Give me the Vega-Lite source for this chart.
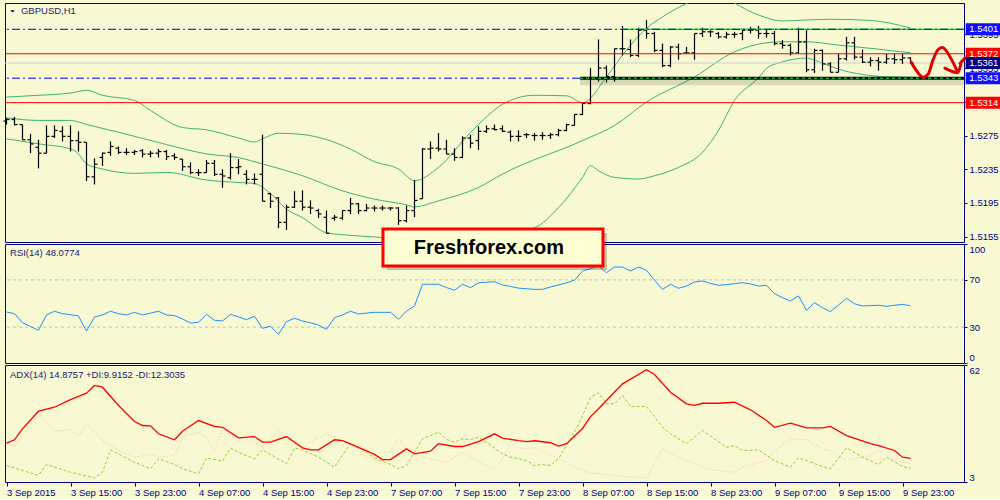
{
  "$schema": "https://vega.github.io/schema/vega-lite/v6.json",
  "background": "#F8F8D2",
  "padding": {"left": 2, "top": 2, "right": 2, "bottom": 2},
  "spacing": 2,
  "bounds": "flush",
  "config": {
    "view": {"stroke": "#000080", "strokeWidth": 1},
    "font": "Liberation Sans",
    "axis": {"labelFont": "Liberation Sans", "labelFontSize": 9.5, "labelColor": "#000080", "tickColor": "#000080", "domain": false, "grid": false}
  },
  "datasets": {
    "bars": [
      {"i":0,"o":1.5292,"h":1.5296,"l":1.5288,"c":1.5294},
      {"i":1,"o":1.5294,"h":1.5297,"l":1.5287,"c":1.5288},
      {"i":2,"o":1.5288,"h":1.5288,"l":1.5270,"c":1.5270},
      {"i":3,"o":1.5270,"h":1.5277,"l":1.5254,"c":1.5265},
      {"i":4,"o":1.5261,"h":1.5270,"l":1.5236,"c":1.5254},
      {"i":5,"o":1.5254,"h":1.5287,"l":1.5254,"c":1.5274},
      {"i":6,"o":1.5274,"h":1.5287,"l":1.5272,"c":1.5281},
      {"i":7,"o":1.5280,"h":1.5286,"l":1.5268,"c":1.5274},
      {"i":8,"o":1.5274,"h":1.5287,"l":1.5256,"c":1.5269},
      {"i":9,"o":1.5269,"h":1.5280,"l":1.5256,"c":1.5267},
      {"i":10,"o":1.5267,"h":1.5267,"l":1.5221,"c":1.5226},
      {"i":11,"o":1.5226,"h":1.5248,"l":1.5217,"c":1.5241},
      {"i":12,"o":1.5249,"h":1.5255,"l":1.5239,"c":1.5254},
      {"i":13,"o":1.5255,"h":1.5268,"l":1.5251,"c":1.5262},
      {"i":14,"o":1.5260,"h":1.5262,"l":1.5253,"c":1.5255},
      {"i":15,"o":1.5255,"h":1.5260,"l":1.5252,"c":1.5255},
      {"i":16,"o":1.5255,"h":1.5258,"l":1.5252,"c":1.5256},
      {"i":17,"o":1.5257,"h":1.5259,"l":1.5249,"c":1.5253},
      {"i":18,"o":1.5253,"h":1.5257,"l":1.5249,"c":1.5254},
      {"i":19,"o":1.5254,"h":1.5259,"l":1.5249,"c":1.5256},
      {"i":20,"o":1.5256,"h":1.5258,"l":1.5246,"c":1.5250},
      {"i":21,"o":1.5251,"h":1.5254,"l":1.5246,"c":1.5249},
      {"i":22,"o":1.5247,"h":1.5247,"l":1.5233,"c":1.5238},
      {"i":23,"o":1.5238,"h":1.5243,"l":1.5229,"c":1.5231},
      {"i":24,"o":1.5231,"h":1.5235,"l":1.5227,"c":1.5231},
      {"i":25,"o":1.5231,"h":1.5246,"l":1.5231,"c":1.5242},
      {"i":26,"o":1.5242,"h":1.5246,"l":1.5227,"c":1.5229},
      {"i":27,"o":1.5229,"h":1.5235,"l":1.5213,"c":1.5227},
      {"i":28,"o":1.5225,"h":1.5254,"l":1.5223,"c":1.5237},
      {"i":29,"o":1.5237,"h":1.5247,"l":1.5229,"c":1.5238},
      {"i":30,"o":1.5229,"h":1.5234,"l":1.5217,"c":1.5223},
      {"i":31,"o":1.5223,"h":1.5230,"l":1.5217,"c":1.5223},
      {"i":32,"o":1.5229,"h":1.5276,"l":1.5197,"c":1.5197},
      {"i":33,"o":1.5206,"h":1.5207,"l":1.5189,"c":1.5197},
      {"i":34,"o":1.5201,"h":1.5202,"l":1.5165,"c":1.5172},
      {"i":35,"o":1.5172,"h":1.5193,"l":1.5163,"c":1.5190},
      {"i":36,"o":1.5190,"h":1.5209,"l":1.5189,"c":1.5197},
      {"i":37,"o":1.5197,"h":1.5210,"l":1.5186,"c":1.5190},
      {"i":38,"o":1.5190,"h":1.5198,"l":1.5182,"c":1.5189},
      {"i":39,"o":1.5186,"h":1.5188,"l":1.5177,"c":1.5182},
      {"i":40,"o":1.5178,"h":1.5186,"l":1.5159,"c":1.5159},
      {"i":41,"o":1.5177,"h":1.5181,"l":1.5174,"c":1.5178},
      {"i":42,"o":1.5177,"h":1.5186,"l":1.5175,"c":1.5186},
      {"i":43,"o":1.5186,"h":1.5201,"l":1.5182,"c":1.5194},
      {"i":44,"o":1.5194,"h":1.5195,"l":1.5182,"c":1.5186},
      {"i":45,"o":1.5186,"h":1.5194,"l":1.5185,"c":1.5189},
      {"i":46,"o":1.5189,"h":1.5192,"l":1.5185,"c":1.5189},
      {"i":47,"o":1.5189,"h":1.5192,"l":1.5186,"c":1.5189},
      {"i":48,"o":1.5189,"h":1.5190,"l":1.5186,"c":1.5189},
      {"i":49,"o":1.5189,"h":1.5190,"l":1.5169,"c":1.5174},
      {"i":50,"o":1.5174,"h":1.5192,"l":1.5172,"c":1.5186},
      {"i":51,"o":1.5186,"h":1.5222,"l":1.5178,"c":1.5198},
      {"i":52,"o":1.5200,"h":1.5260,"l":1.5200,"c":1.5259},
      {"i":53,"o":1.5259,"h":1.5268,"l":1.5247,"c":1.5260},
      {"i":54,"o":1.5260,"h":1.5278,"l":1.5256,"c":1.5259},
      {"i":55,"o":1.5259,"h":1.5270,"l":1.5253,"c":1.5253},
      {"i":56,"o":1.5253,"h":1.5260,"l":1.5245,"c":1.5249},
      {"i":57,"o":1.5249,"h":1.5274,"l":1.5248,"c":1.5272},
      {"i":58,"o":1.5272,"h":1.5276,"l":1.5260,"c":1.5266},
      {"i":59,"o":1.5269,"h":1.5286,"l":1.5258,"c":1.5280},
      {"i":60,"o":1.5280,"h":1.5287,"l":1.5278,"c":1.5283},
      {"i":61,"o":1.5283,"h":1.5288,"l":1.5281,"c":1.5282},
      {"i":62,"o":1.5283,"h":1.5287,"l":1.5279,"c":1.5280},
      {"i":63,"o":1.5279,"h":1.5281,"l":1.5268,"c":1.5274},
      {"i":64,"o":1.5274,"h":1.5281,"l":1.5268,"c":1.5274},
      {"i":65,"o":1.5276,"h":1.5278,"l":1.5272,"c":1.5276},
      {"i":66,"o":1.5275,"h":1.5278,"l":1.5269,"c":1.5275},
      {"i":67,"o":1.5275,"h":1.5279,"l":1.5270,"c":1.5275},
      {"i":68,"o":1.5275,"h":1.5278,"l":1.5271,"c":1.5276},
      {"i":69,"o":1.5276,"h":1.5283,"l":1.5274,"c":1.5281},
      {"i":70,"o":1.5281,"h":1.5289,"l":1.5280,"c":1.5288},
      {"i":71,"o":1.5287,"h":1.5300,"l":1.5287,"c":1.5300},
      {"i":72,"o":1.5300,"h":1.5314,"l":1.5299,"c":1.5313},
      {"i":73,"o":1.5313,"h":1.5355,"l":1.5312,"c":1.5343},
      {"i":74,"o":1.5343,"h":1.5389,"l":1.5339,"c":1.5355},
      {"i":75,"o":1.5355,"h":1.5358,"l":1.5338,"c":1.5345},
      {"i":76,"o":1.5345,"h":1.5378,"l":1.5339,"c":1.5378},
      {"i":77,"o":1.5378,"h":1.5405,"l":1.5370,"c":1.5378},
      {"i":78,"o":1.5377,"h":1.5389,"l":1.5368,"c":1.5370},
      {"i":79,"o":1.5370,"h":1.5403,"l":1.5368,"c":1.5400},
      {"i":80,"o":1.5400,"h":1.5412,"l":1.5390,"c":1.5396},
      {"i":81,"o":1.5396,"h":1.5398,"l":1.5374,"c":1.5376},
      {"i":82,"o":1.5376,"h":1.5384,"l":1.5356,"c":1.5358},
      {"i":83,"o":1.5358,"h":1.5381,"l":1.5356,"c":1.5380},
      {"i":84,"o":1.5380,"h":1.5384,"l":1.5365,"c":1.5372},
      {"i":85,"o":1.5373,"h":1.5380,"l":1.5372,"c":1.5373},
      {"i":86,"o":1.5373,"h":1.5396,"l":1.5365,"c":1.5396},
      {"i":87,"o":1.5396,"h":1.5403,"l":1.5392,"c":1.5398},
      {"i":88,"o":1.5398,"h":1.5400,"l":1.5392,"c":1.5398},
      {"i":89,"o":1.5396,"h":1.5398,"l":1.5390,"c":1.5392},
      {"i":90,"o":1.5392,"h":1.5398,"l":1.5390,"c":1.5395},
      {"i":91,"o":1.5395,"h":1.5398,"l":1.5391,"c":1.5395},
      {"i":92,"o":1.5396,"h":1.5402,"l":1.5388,"c":1.5400},
      {"i":93,"o":1.5400,"h":1.5404,"l":1.5396,"c":1.5400},
      {"i":94,"o":1.5400,"h":1.5405,"l":1.5390,"c":1.5396},
      {"i":95,"o":1.5396,"h":1.5401,"l":1.5391,"c":1.5396},
      {"i":96,"o":1.5396,"h":1.5399,"l":1.5382,"c":1.5384},
      {"i":97,"o":1.5384,"h":1.5388,"l":1.5378,"c":1.5382},
      {"i":98,"o":1.5382,"h":1.5384,"l":1.5370,"c":1.5373},
      {"i":99,"o":1.5373,"h":1.5403,"l":1.5372,"c":1.5386},
      {"i":100,"o":1.5386,"h":1.5401,"l":1.5350,"c":1.5353},
      {"i":101,"o":1.5353,"h":1.5378,"l":1.5349,"c":1.5376},
      {"i":102,"o":1.5376,"h":1.5377,"l":1.5352,"c":1.5360},
      {"i":103,"o":1.5360,"h":1.5362,"l":1.5350,"c":1.5350},
      {"i":104,"o":1.5350,"h":1.5372,"l":1.5350,"c":1.5366},
      {"i":105,"o":1.5366,"h":1.5392,"l":1.5364,"c":1.5385},
      {"i":106,"o":1.5385,"h":1.5392,"l":1.5365,"c":1.5368},
      {"i":107,"o":1.5368,"h":1.5377,"l":1.5361,"c":1.5362},
      {"i":108,"o":1.5362,"h":1.5368,"l":1.5357,"c":1.5364},
      {"i":109,"o":1.5364,"h":1.5368,"l":1.5352,"c":1.5362},
      {"i":110,"o":1.5362,"h":1.5372,"l":1.5360,"c":1.5366},
      {"i":111,"o":1.5366,"h":1.5372,"l":1.5360,"c":1.5365},
      {"i":112,"o":1.5365,"h":1.5372,"l":1.5360,"c":1.5367},
      {"i":113,"o":1.5367,"h":1.5368,"l":1.5360,"c":1.5361}
    ],
    "bb": [
      {"b":"u","i":0,"p":1.53206},{"b":"u","i":4,"p":1.53227},{"b":"u","i":8,"p":1.53254},{"b":"u","i":10,"p":1.53286},{"b":"u","i":12,"p":1.53227},{"b":"u","i":16,"p":1.53167},{"b":"u","i":18,"p":1.53048},{"b":"u","i":22,"p":1.52845},{"b":"u","i":25,"p":1.52818},{"b":"u","i":29,"p":1.5272},{"b":"u","i":31,"p":1.52673},{"b":"u","i":32,"p":1.52711},{"b":"u","i":34,"p":1.52777},{"b":"u","i":37,"p":1.52762},{"b":"u","i":40,"p":1.52702},{"b":"u","i":43,"p":1.52589},{"b":"u","i":46,"p":1.5244},{"b":"u","i":49,"p":1.52353},{"b":"u","i":51,"p":1.52214},{"b":"u","i":54,"p":1.52372},{"b":"u","i":58,"p":1.52786},{"b":"u","i":59,"p":1.52881},{"b":"u","i":62,"p":1.5312},{"b":"u","i":66,"p":1.53227},{"b":"u","i":70,"p":1.53221},{"b":"u","i":72,"p":1.5314},{"b":"u","i":75,"p":1.53445},{"b":"u","i":77,"p":1.53704},{"b":"u","i":80,"p":1.54022},{"b":"u","i":82,"p":1.54157},{"b":"u","i":86,"p":1.54359},{"b":"u","i":89,"p":1.54455},{"b":"u","i":91,"p":1.54323},{"b":"u","i":94,"p":1.5418},{"b":"u","i":97,"p":1.54109},{"b":"u","i":100,"p":1.54121},{"b":"u","i":103,"p":1.54129},{"b":"u","i":108,"p":1.54115},{"b":"u","i":113,"p":1.54025},
      {"b":"m","i":0,"p":1.52961},{"b":"m","i":4,"p":1.52929},{"b":"m","i":8,"p":1.52929},{"b":"m","i":10,"p":1.52881},{"b":"m","i":14,"p":1.52789},{"b":"m","i":20,"p":1.52643},{"b":"m","i":25,"p":1.52532},{"b":"m","i":29,"p":1.52488},{"b":"m","i":32,"p":1.52413},{"b":"m","i":37,"p":1.52273},{"b":"m","i":42,"p":1.52094},{"b":"m","i":46,"p":1.51995},{"b":"m","i":50,"p":1.51928},{"b":"m","i":51,"p":1.51904},{"b":"m","i":54,"p":1.51975},{"b":"m","i":59,"p":1.52134},{"b":"m","i":62,"p":1.52293},{"b":"m","i":72,"p":1.5269},{"b":"m","i":76,"p":1.52869},{"b":"m","i":80,"p":1.53147},{"b":"m","i":86,"p":1.53445},{"b":"m","i":91,"p":1.53743},{"b":"m","i":95,"p":1.5385},{"b":"m","i":97,"p":1.53862},{"b":"m","i":100,"p":1.53862},{"b":"m","i":104,"p":1.53823},{"b":"m","i":108,"p":1.53784},{"b":"m","i":113,"p":1.53731},
      {"b":"l","i":0,"p":1.52711},{"b":"l","i":4,"p":1.52651},{"b":"l","i":8,"p":1.52592},{"b":"l","i":9,"p":1.52532},{"b":"l","i":10,"p":1.52413},{"b":"l","i":12,"p":1.52353},{"b":"l","i":16,"p":1.52301},{"b":"l","i":20,"p":1.52313},{"b":"l","i":25,"p":1.52222},{"b":"l","i":29,"p":1.52193},{"b":"l","i":31,"p":1.52181},{"b":"l","i":33,"p":1.52062},{"b":"l","i":35,"p":1.51876},{"b":"l","i":37,"p":1.51776},{"b":"l","i":40,"p":1.51597},{"b":"l","i":43,"p":1.51566},{"b":"l","i":46,"p":1.51546},{"b":"l","i":50,"p":1.51528},{"b":"l","i":55,"p":1.51534},{"b":"l","i":60,"p":1.5157},{"b":"l","i":63,"p":1.51606},{"b":"l","i":66,"p":1.51657},{"b":"l","i":69,"p":1.51895},{"b":"l","i":72,"p":1.52253},{"b":"l","i":73,"p":1.52392},{"b":"l","i":74,"p":1.52333},{"b":"l","i":76,"p":1.52253},{"b":"l","i":79,"p":1.52234},{"b":"l","i":81,"p":1.52273},{"b":"l","i":84,"p":1.52372},{"b":"l","i":87,"p":1.52551},{"b":"l","i":89,"p":1.5281},{"b":"l","i":91,"p":1.53167},{"b":"l","i":94,"p":1.53435},{"b":"l","i":95,"p":1.53545},{"b":"l","i":97,"p":1.53624},{"b":"l","i":100,"p":1.53668},{"b":"l","i":102,"p":1.53608},{"b":"l","i":104,"p":1.53537},{"b":"l","i":107,"p":1.53474},{"b":"l","i":110,"p":1.53447},{"b":"l","i":113,"p":1.53441}
    ],
    "levels": [
      {"p":1.5401,"k":"dd"},{"p":1.5343,"k":"dd"},{"p":1.5372,"k":"red"},{"p":1.5314,"k":"red"},{"p":1.5361,"k":"bid"}
    ],
    "segments": [
      {"p":1.5401,"k":"top","a":76.9,"b":119.6875},
      {"p":1.5343,"k":"bottom","a":71.69,"b":119.6875}
    ],
    "tags": [
      {"p":1.5401,"k":"blue","t":"1.5401"},
      {"p":1.5372,"k":"red","t":"1.5372"},
      {"p":1.5361,"k":"navy","t":"1.5361"},
      {"p":1.5343,"k":"blue","t":"1.5343"},
      {"p":1.5314,"k":"red","t":"1.5314"}
    ],
    "arrow": [
      {"s":1,"k":1,"i":113.09,"p":1.5362},{"s":1,"k":2,"i":113.7,"p":1.53525},{"s":1,"k":3,"i":114.6,"p":1.53441},{"s":1,"k":4,"i":115.2,"p":1.53477},{"s":1,"k":5,"i":115.8,"p":1.53644},{"s":1,"k":6,"i":116.5,"p":1.53775},{"s":1,"k":7,"i":117.0,"p":1.53793},{"s":1,"k":8,"i":117.5,"p":1.53751},{"s":1,"k":9,"i":118.1,"p":1.53656},{"s":1,"k":10,"i":118.9,"p":1.53501},
      {"s":2,"k":1,"i":117.3,"p":1.53549},{"s":2,"k":2,"i":118.9,"p":1.53495},{"s":2,"k":3,"i":119.3,"p":1.53596},
      {"s":3,"k":1,"i":119.2,"p":1.53608},{"s":3,"k":2,"i":119.8,"p":1.53668}
    ],
    "rsi": [
      {"i":0,"v":42.8},{"i":1,"v":41.4},{"i":2,"v":33.7},{"i":3,"v":30.5},{"i":4,"v":27.3},{"i":5,"v":40.3},{"i":6,"v":43.4},{"i":7,"v":41.4},{"i":8,"v":40.5},{"i":9,"v":39.4},
      {"i":10,"v":26.7},{"i":11,"v":38.6},{"i":12,"v":40.3},{"i":13,"v":43.4},{"i":14,"v":41.4},{"i":15,"v":40.3},{"i":16,"v":42.5},{"i":17,"v":40.3},{"i":18,"v":41.9},{"i":19,"v":43.4},
      {"i":20,"v":40.3},{"i":21,"v":39.7},{"i":22,"v":36.9},{"i":23,"v":33.5},{"i":24,"v":34.1},{"i":25,"v":40.8},{"i":26,"v":35.8},{"i":27,"v":35.2},{"i":28,"v":40.8},{"i":29,"v":38.6},
      {"i":30,"v":36.3},{"i":31,"v":39.2},{"i":32,"v":29.0},{"i":33,"v":30.7},{"i":34,"v":23.9},{"i":35,"v":34.6},{"i":36,"v":37.5},{"i":37,"v":35.2},{"i":38,"v":33.7},{"i":39,"v":31.8},
      {"i":40,"v":28.1},{"i":41,"v":38.0},{"i":42,"v":40.3},{"i":43,"v":43.4},{"i":44,"v":41.1},{"i":45,"v":41.9},{"i":46,"v":42.5},{"i":47,"v":42.5},{"i":48,"v":42.5},{"i":49,"v":36.6},
      {"i":50,"v":43.6},{"i":51,"v":47.9},{"i":52,"v":66.3},{"i":53,"v":66.3},{"i":54,"v":66.3},{"i":55,"v":63.5},{"i":56,"v":61.2},{"i":57,"v":66.3},{"i":58,"v":63.4},{"i":59,"v":67.6},
      {"i":60,"v":68.0},{"i":61,"v":68.5},{"i":62,"v":65.7},{"i":63,"v":64.5},{"i":64,"v":63.0},{"i":65,"v":62.5},{"i":66,"v":62.0},{"i":67,"v":62.0},{"i":68,"v":64.0},{"i":69,"v":65.7},
      {"i":70,"v":67.5},{"i":71,"v":69.7},{"i":72,"v":77.5},{"i":73,"v":79.5},{"i":74,"v":81.8},{"i":75,"v":76.1},{"i":76,"v":80.9},{"i":77,"v":80.9},{"i":78,"v":77.5},{"i":79,"v":80.9},
      {"i":80,"v":78.1},{"i":81,"v":69.7},{"i":82,"v":62.0},{"i":83,"v":66.3},{"i":84,"v":62.9},{"i":85,"v":64.8},{"i":86,"v":68.2},{"i":87,"v":69.1},{"i":88,"v":67.0},{"i":89,"v":65.4},
      {"i":90,"v":66.0},{"i":91,"v":66.8},{"i":92,"v":67.6},{"i":93,"v":66.5},{"i":94,"v":64.8},{"i":95,"v":65.4},{"i":96,"v":58.3},{"i":97,"v":54.9},{"i":98,"v":52.1},{"i":99,"v":56.4},
      {"i":100,"v":44.2},{"i":101,"v":50.7},{"i":102,"v":46.4},{"i":103,"v":43.1},{"i":104,"v":48.7},{"i":105,"v":54.4},{"i":106,"v":49.8},{"i":107,"v":47.9},{"i":108,"v":48.2},{"i":109,"v":48.5},
      {"i":110,"v":47.6},{"i":111,"v":48.5},{"i":112,"v":49.3},{"i":113,"v":48.1}
    ],
    "adx": [
      {"i":0,"v":22.6},{"i":1,"v":24.3},{"i":2,"v":29.8},{"i":4,"v":38.7},{"i":6,"v":40.7},{"i":8,"v":44.5},{"i":10,"v":47.8},{"i":11,"v":51.7},{"i":12,"v":50.8},{"i":14,"v":41.6},{"i":16,"v":33.5},{"i":17,"v":31.5},{"i":18,"v":31.3},{"i":19,"v":27.3},{"i":21,"v":24.3},{"i":22,"v":28.6},{"i":24,"v":34},{"i":26,"v":31},{"i":27,"v":30.6},{"i":29,"v":25.3},{"i":31,"v":25.9},{"i":32,"v":23.1},{"i":33,"v":23.1},{"i":35,"v":25.9},{"i":37,"v":20.2},{"i":38,"v":19.2},{"i":39,"v":19.2},{"i":41,"v":24.3},{"i":42,"v":23.9},{"i":44,"v":20.5},{"i":46,"v":16.9},{"i":47,"v":14.3},{"i":48,"v":14.3},{"i":50,"v":19.7},{"i":51,"v":17.2},{"i":53,"v":18.5},{"i":54,"v":22.3},{"i":56,"v":20.9},{"i":57,"v":20.9},{"i":59,"v":23.4},{"i":61,"v":27.3},{"i":62,"v":25.1},{"i":64,"v":23.9},{"i":65,"v":23.4},{"i":66,"v":23.8},{"i":68,"v":22.8},{"i":69,"v":21.1},{"i":70,"v":22.3},{"i":71,"v":26.1},{"i":72,"v":30},{"i":73,"v":36},{"i":74,"v":39.9},{"i":77,"v":52.5},{"i":80,"v":59.6},{"i":81,"v":57.2},{"i":83,"v":48.3},{"i":85,"v":42.4},{"i":86,"v":41.6},{"i":87,"v":42.7},{"i":89,"v":42.7},{"i":91,"v":43.2},{"i":93,"v":39.4},{"i":95,"v":34},{"i":96,"v":30.6},{"i":98,"v":32.7},{"i":100,"v":30.3},{"i":102,"v":30.3},{"i":103,"v":31},{"i":105,"v":26.4},{"i":108,"v":22.3},{"i":109,"v":21.4},{"i":111,"v":18.9},{"i":112,"v":15.5},{"i":113,"v":14.9}
    ],
    "pdi": [
      {"i":0,"v":11.3},{"i":2,"v":8.8},{"i":4,"v":6.3},{"i":5,"v":11.8},{"i":8,"v":7.9},{"i":11,"v":5.1},{"i":12,"v":7.9},{"i":13,"v":19.2},{"i":14,"v":17.2},{"i":16,"v":13},{"i":18,"v":9.7},{"i":19,"v":14.7},{"i":21,"v":11.8},{"i":22,"v":9.7},{"i":24,"v":7.1},{"i":25,"v":15.2},{"i":27,"v":13.5},{"i":28,"v":20.2},{"i":29,"v":18},{"i":31,"v":14.7},{"i":32,"v":19.2},{"i":35,"v":12.2},{"i":36,"v":20.2},{"i":37,"v":19.2},{"i":39,"v":15.5},{"i":41,"v":10.5},{"i":43,"v":22.6},{"i":45,"v":18},{"i":46,"v":15.2},{"i":48,"v":11.8},{"i":49,"v":9.7},{"i":50,"v":11.3},{"i":51,"v":18},{"i":52,"v":24.8},{"i":54,"v":28.1},{"i":55,"v":24.5},{"i":56,"v":23.1},{"i":57,"v":24.8},{"i":58,"v":24.4},{"i":59,"v":25.6},{"i":60,"v":23.1},{"i":61,"v":20},{"i":62,"v":17.2},{"i":63,"v":15.5},{"i":64,"v":14.7},{"i":65,"v":13.8},{"i":66,"v":11.3},{"i":67,"v":11.8},{"i":68,"v":11.3},{"i":69,"v":14.7},{"i":70,"v":21.4},{"i":71,"v":28.1},{"i":72,"v":36.5},{"i":73,"v":45.6},{"i":74,"v":48},{"i":75,"v":42.4},{"i":76,"v":42.4},{"i":77,"v":46.6},{"i":78,"v":41.1},{"i":80,"v":41.1},{"i":82,"v":30.6},{"i":83,"v":27.3},{"i":85,"v":22.3},{"i":87,"v":29},{"i":90,"v":20.5},{"i":91,"v":21.4},{"i":92,"v":18.9},{"i":94,"v":19.2},{"i":96,"v":13.8},{"i":98,"v":10.5},{"i":99,"v":15.2},{"i":100,"v":13.8},{"i":102,"v":10.8},{"i":103,"v":9.7},{"i":105,"v":20.2},{"i":107,"v":15.5},{"i":109,"v":11.8},{"i":110,"v":15.5},{"i":112,"v":10.8},{"i":113,"v":9.9}
    ],
    "mdi": [
      {"i":0,"v":22.3},{"i":1,"v":20.9},{"i":4,"v":37.4},{"i":6,"v":28.6},{"i":8,"v":29.3},{"i":9,"v":26.4},{"i":10,"v":32},{"i":12,"v":24.3},{"i":14,"v":18.9},{"i":16,"v":15.5},{"i":18,"v":16.9},{"i":19,"v":15.5},{"i":21,"v":16.4},{"i":22,"v":25.6},{"i":24,"v":28.1},{"i":25,"v":25.6},{"i":26,"v":18},{"i":27,"v":30.6},{"i":29,"v":23.1},{"i":30,"v":28.1},{"i":31,"v":22.6},{"i":32,"v":20.9},{"i":34,"v":29.3},{"i":35,"v":25.6},{"i":37,"v":20.2},{"i":38,"v":23.1},{"i":40,"v":27.3},{"i":42,"v":23.9},{"i":43,"v":22.6},{"i":45,"v":15.5},{"i":47,"v":13},{"i":49,"v":24.8},{"i":50,"v":19.7},{"i":51,"v":17.2},{"i":52,"v":15.5},{"i":54,"v":13.8},{"i":55,"v":13},{"i":56,"v":15.5},{"i":57,"v":18},{"i":58,"v":15.5},{"i":59,"v":13},{"i":60,"v":11.3},{"i":61,"v":9.7},{"i":62,"v":14.7},{"i":63,"v":22.8},{"i":64,"v":20},{"i":65,"v":19.7},{"i":66,"v":20.5},{"i":68,"v":16.7},{"i":70,"v":13},{"i":71,"v":10.5},{"i":73,"v":7.6},{"i":75,"v":6.6},{"i":77,"v":5.8},{"i":80,"v":5.1},{"i":82,"v":19.7},{"i":85,"v":13.8},{"i":88,"v":9.2},{"i":91,"v":7.9},{"i":92,"v":10.5},{"i":95,"v":13.8},{"i":96,"v":18.9},{"i":98,"v":24.8},{"i":100,"v":24.3},{"i":102,"v":19.7},{"i":103,"v":18.9},{"i":105,"v":13.8},{"i":108,"v":16.4},{"i":109,"v":18.9},{"i":111,"v":13.8},{"i":113,"v":12.3}
    ]
  },
  "vconcat": [
    {
      "width": 959,
      "height": 239,
      "layer": [
        {
          "data": {"name": "bb"},
          "mark": {"type": "line", "color": "#3CB371", "strokeWidth": 1, "clip": true, "interpolate": "monotone"},
          "encoding": {
            "x": {"field": "i", "type": "quantitative", "scale": {"domain": [-0.1875, 119.6875], "nice": false, "zero": false}, "axis": null},
            "y": {"field": "p", "type": "quantitative", "scale": {"domain": [1.51487, 1.54322], "nice": false, "zero": false}, "title": null, "axis": {"orient": "right", "values": [1.5155, 1.5195, 1.5235, 1.5275, 1.5315, 1.5355, 1.5395], "format": ".4f", "tickSize": 3, "labelPadding": 2, "title": null}},
            "detail": {"field": "b"}
          }
        },
        {
          "data": {"name": "levels"},
          "transform": [{"filter": "datum.k == 'bid'"}],
          "mark": {"type": "rule", "color": "#CFCFCF", "strokeWidth": 1},
          "encoding": {"y": {"field": "p", "type": "quantitative", "title": null, "axis": {"orient": "right", "values": [1.5155, 1.5195, 1.5235, 1.5275, 1.5315, 1.5355, 1.5395], "format": ".4f", "tickSize": 3, "labelPadding": 2, "title": null}}}
        },
        {
          "data": {"name": "bars"},
          "mark": {"type": "rule", "color": "#000000", "strokeWidth": 1.2},
          "encoding": {
            "x": {"field": "i", "type": "quantitative", "axis": null},
            "y": {"field": "l", "type": "quantitative", "title": null, "axis": {"orient": "right", "values": [1.5155, 1.5195, 1.5235, 1.5275, 1.5315, 1.5355, 1.5395], "format": ".4f", "tickSize": 3, "labelPadding": 2, "title": null}},
            "y2": {"field": "h"}
          }
        },
        {
          "data": {"name": "bars"},
          "mark": {"type": "rule", "color": "#000000", "strokeWidth": 1.2, "xOffset": -3},
          "encoding": {
            "x": {"field": "i", "type": "quantitative", "axis": null},
            "x2": {"field": "i"},
            "y": {"field": "o", "type": "quantitative", "title": null, "axis": {"orient": "right", "values": [1.5155, 1.5195, 1.5235, 1.5275, 1.5315, 1.5355, 1.5395], "format": ".4f", "tickSize": 3, "labelPadding": 2, "title": null}}
          }
        },
        {
          "data": {"name": "bars"},
          "mark": {"type": "rule", "color": "#000000", "strokeWidth": 1.2, "x2Offset": 3},
          "encoding": {
            "x": {"field": "i", "type": "quantitative", "axis": null},
            "x2": {"field": "i"},
            "y": {"field": "c", "type": "quantitative", "title": null, "axis": {"orient": "right", "values": [1.5155, 1.5195, 1.5235, 1.5275, 1.5315, 1.5355, 1.5395], "format": ".4f", "tickSize": 3, "labelPadding": 2, "title": null}}
          }
        },
        {
          "data": {"name": "levels"},
          "transform": [{"filter": "datum.k == 'red'"}],
          "mark": {"type": "rule", "color": "#FF0000", "strokeWidth": 1},
          "encoding": {"y": {"field": "p", "type": "quantitative", "title": null, "axis": {"orient": "right", "values": [1.5155, 1.5195, 1.5235, 1.5275, 1.5315, 1.5355, 1.5395], "format": ".4f", "tickSize": 3, "labelPadding": 2, "title": null}}}
        },
        {
          "data": {"name": "segments"},
          "transform": [{"filter": "datum.k == 'top'"}],
          "mark": {"type": "rule", "color": "#22E022", "strokeWidth": 1.6},
          "encoding": {
            "x": {"field": "a", "type": "quantitative", "axis": null},
            "x2": {"field": "b"},
            "y": {"field": "p", "type": "quantitative", "title": null, "axis": {"orient": "right", "values": [1.5155, 1.5195, 1.5235, 1.5275, 1.5315, 1.5355, 1.5395], "format": ".4f", "tickSize": 3, "labelPadding": 2, "title": null}}
          }
        },
        {
          "data": {"name": "levels"},
          "transform": [{"filter": "datum.k == 'dd'"}],
          "mark": {"type": "rule", "color": "#0000FF", "strokeWidth": 1, "strokeDash": [8, 3, 2, 3]},
          "encoding": {"y": {"field": "p", "type": "quantitative", "title": null, "axis": {"orient": "right", "values": [1.5155, 1.5195, 1.5235, 1.5275, 1.5315, 1.5355, 1.5395], "format": ".4f", "tickSize": 3, "labelPadding": 2, "title": null}}}
        },
        {
          "data": {"name": "segments"},
          "transform": [{"filter": "datum.k == 'bottom'"}],
          "mark": {"type": "rule", "color": "#000000", "strokeWidth": 8, "opacity": 0.12, "yOffset": 3},
          "encoding": {
            "x": {"field": "a", "type": "quantitative", "axis": null},
            "x2": {"field": "b"},
            "y": {"field": "p", "type": "quantitative", "title": null, "axis": {"orient": "right", "values": [1.5155, 1.5195, 1.5235, 1.5275, 1.5315, 1.5355, 1.5395], "format": ".4f", "tickSize": 3, "labelPadding": 2, "title": null}}
          }
        },
        {
          "data": {"name": "segments"},
          "transform": [{"filter": "datum.k == 'bottom'"}],
          "mark": {"type": "rule", "color": "#000020", "strokeWidth": 3},
          "encoding": {
            "x": {"field": "a", "type": "quantitative", "axis": null},
            "x2": {"field": "b"},
            "y": {"field": "p", "type": "quantitative", "title": null, "axis": {"orient": "right", "values": [1.5155, 1.5195, 1.5235, 1.5275, 1.5315, 1.5355, 1.5395], "format": ".4f", "tickSize": 3, "labelPadding": 2, "title": null}}
          }
        },
        {
          "data": {"name": "segments"},
          "transform": [{"filter": "datum.k == 'bottom'"}],
          "mark": {"type": "rule", "color": "#33FF33", "strokeWidth": 1, "strokeDash": [3, 3]},
          "encoding": {
            "x": {"field": "a", "type": "quantitative", "axis": null},
            "x2": {"field": "b"},
            "y": {"field": "p", "type": "quantitative", "title": null, "axis": {"orient": "right", "values": [1.5155, 1.5195, 1.5235, 1.5275, 1.5315, 1.5355, 1.5395], "format": ".4f", "tickSize": 3, "labelPadding": 2, "title": null}}
          }
        },
        {
          "data": {"name": "arrow"},
          "mark": {"type": "line", "color": "#E00000", "strokeWidth": 3, "strokeCap": "round", "strokeJoin": "round", "interpolate": "monotone"},
          "encoding": {
            "x": {"field": "i", "type": "quantitative", "axis": null},
            "y": {"field": "p", "type": "quantitative", "title": null, "axis": {"orient": "right", "values": [1.5155, 1.5195, 1.5235, 1.5275, 1.5315, 1.5355, 1.5395], "format": ".4f", "tickSize": 3, "labelPadding": 2, "title": null}},
            "detail": {"field": "s"},
            "order": {"field": "k"}
          }
        },
        {
          "data": {"name": "tags"},
          "mark": {"type": "rule", "strokeWidth": 12},
          "encoding": {
            "x": {"datum": 119.9, "type": "quantitative", "axis": null},
            "x2": {"datum": 124.4},
            "y": {"field": "p", "type": "quantitative", "title": null, "axis": {"orient": "right", "values": [1.5155, 1.5195, 1.5235, 1.5275, 1.5315, 1.5355, 1.5395], "format": ".4f", "tickSize": 3, "labelPadding": 2, "title": null}},
            "color": {"field": "k", "type": "nominal", "scale": {"domain": ["blue", "red", "navy"], "range": ["#1010FF", "#FF0000", "#000080"]}, "legend": null}
          }
        },
        {
          "data": {"name": "tags"},
          "mark": {"type": "text", "color": "#FFFFFF", "align": "left", "baseline": "middle", "fontSize": 9.5, "font": "Liberation Sans"},
          "encoding": {
            "x": {"datum": 120.35, "type": "quantitative", "axis": null},
            "y": {"field": "p", "type": "quantitative", "title": null, "axis": {"orient": "right", "values": [1.5155, 1.5195, 1.5235, 1.5275, 1.5315, 1.5355, 1.5395], "format": ".4f", "tickSize": 3, "labelPadding": 2, "title": null}},
            "text": {"field": "t"}
          }
        },
        {
          "data": {"values": [{"label": "GBPUSD,H1"}]},
          "mark": {"type": "text", "color": "#20206F", "align": "left", "baseline": "middle", "fontSize": 9.5, "font": "Liberation Sans"},
          "encoding": {
            "x": {"datum": 1.81, "type": "quantitative", "axis": null},
            "y": {"datum": 1.54224, "type": "quantitative", "title": null, "axis": {"orient": "right", "values": [1.5155, 1.5195, 1.5235, 1.5275, 1.5315, 1.5355, 1.5395], "format": ".4f", "tickSize": 3, "labelPadding": 2, "title": null}},
            "text": {"field": "label"}
          }
        },
        {
          "data": {"values": [{"label": "menu"}]},
          "mark": {"type": "point", "shape": "M-1,-0.5L1,-0.5L0,0.5Z", "filled": true, "color": "#000080", "size": 20, "opacity": 1},
          "encoding": {
            "x": {"datum": 0.75, "type": "quantitative", "axis": null},
            "y": {"datum": 1.54224, "type": "quantitative", "title": null, "axis": {"orient": "right", "values": [1.5155, 1.5195, 1.5235, 1.5275, 1.5315, 1.5355, 1.5395], "format": ".4f", "tickSize": 3, "labelPadding": 2, "title": null}}
          }
        }
      ]
    },
    {
      "width": 959,
      "height": 119,
      "layer": [
        {
          "data": {"values": [{"v": 30}, {"v": 70}]},
          "mark": {"type": "rule", "color": "#C0C0C0", "strokeWidth": 1, "strokeDash": [3, 3]},
          "encoding": {
            "y": {"field": "v", "type": "quantitative", "scale": {"domain": [-0.4, 100.4], "nice": false, "zero": false}, "title": null, "axis": {"orient": "right", "values": [0, 30, 70, 100], "tickSize": 3, "labelPadding": 2, "labelFlush": 2, "title": null}}
          }
        },
        {
          "data": {"name": "rsi"},
          "mark": {"type": "line", "color": "#1E90FF", "strokeWidth": 1},
          "encoding": {
            "x": {"field": "i", "type": "quantitative", "scale": {"domain": [-0.1875, 119.6875], "nice": false, "zero": false}, "axis": null},
            "y": {"field": "v", "type": "quantitative", "title": null, "axis": {"orient": "right", "values": [0, 30, 70, 100], "tickSize": 3, "labelPadding": 2, "labelFlush": 2, "title": null}}
          }
        },
        {
          "data": {"values": [{"label": "RSI(14) 48.0774"}]},
          "mark": {"type": "text", "color": "#20206F", "align": "left", "baseline": "middle", "fontSize": 9.5, "font": "Liberation Sans"},
          "encoding": {
            "x": {"datum": 0.44, "type": "quantitative", "axis": null},
            "y": {"datum": 92.5, "type": "quantitative", "title": null, "axis": {"orient": "right", "values": [0, 30, 70, 100], "tickSize": 3, "labelPadding": 2, "labelFlush": 2, "title": null}},
            "text": {"field": "label"}
          }
        },
        {
          "data": {"values": [{"label": "Freshforex.com"}]},
          "mark": {"type": "rect", "color": "#000000", "opacity": 0.22, "xOffset": 4, "x2Offset": 4, "yOffset": 4, "y2Offset": 4},
          "encoding": {
            "x": {"datum": 47.06, "type": "quantitative", "axis": null},
            "x2": {"datum": 74.56},
            "y": {"datum": 113.1, "type": "quantitative", "title": null, "axis": {"orient": "right", "values": [0, 30, 70, 100], "tickSize": 3, "labelPadding": 2, "labelFlush": 2, "title": null}},
            "y2": {"datum": 81.8}
          }
        },
        {
          "data": {"values": [{"label": "Freshforex.com"}]},
          "mark": {"type": "rect", "fill": "#FFFFD4", "stroke": "#FF0000", "strokeWidth": 3, "opacity": 1},
          "encoding": {
            "x": {"datum": 47.06, "type": "quantitative", "axis": null},
            "x2": {"datum": 74.56},
            "y": {"datum": 113.1, "type": "quantitative", "title": null, "axis": {"orient": "right", "values": [0, 30, 70, 100], "tickSize": 3, "labelPadding": 2, "labelFlush": 2, "title": null}},
            "y2": {"datum": 81.8}
          }
        },
        {
          "data": {"values": [{"label": "Freshforex.com"}]},
          "mark": {"type": "text", "color": "#000000", "align": "center", "baseline": "middle", "fontSize": 20, "fontWeight": "bold", "font": "Liberation Sans"},
          "encoding": {
            "x": {"datum": 60.3, "type": "quantitative", "axis": null},
            "y": {"datum": 97.0, "type": "quantitative", "title": null, "axis": {"orient": "right", "values": [0, 30, 70, 100], "tickSize": 3, "labelPadding": 2, "labelFlush": 2, "title": null}},
            "text": {"field": "label"}
          }
        }
      ]
    },
    {
      "width": 959,
      "height": 117,
      "layer": [
        {
          "data": {"name": "mdi"},
          "mark": {"type": "line", "color": "#F3C4A4", "strokeWidth": 1, "strokeDash": [1, 2]},
          "encoding": {
            "x": {"field": "i", "type": "quantitative", "scale": {"domain": [-0.1875, 119.6875], "nice": false, "zero": false}, "title": null, "axis": {"values": [0, 8, 16, 24, 32, 40, 48, 56, 64, 72, 80, 88, 96, 104, 112], "labelExpr": "['3 Sep 2015','3 Sep 15:00','3 Sep 23:00','4 Sep 07:00','4 Sep 15:00','4 Sep 23:00','7 Sep 07:00','7 Sep 15:00','7 Sep 23:00','8 Sep 07:00','8 Sep 15:00','8 Sep 23:00','9 Sep 07:00','9 Sep 15:00','9 Sep 23:00'][round(datum.value/8)]", "labelAlign": "left", "labelBaseline": "top", "labelPadding": 1, "tickSize": 4, "labelOverlap": false, "labelFlush": false, "title": null}},
            "y": {"field": "v", "type": "quantitative", "scale": {"domain": [3, 62], "nice": false, "zero": false}, "title": null, "axis": {"orient": "right", "values": [3, 62], "tickSize": 3, "labelPadding": 2, "labelFlush": 2, "title": null}}
          }
        },
        {
          "data": {"name": "pdi"},
          "mark": {"type": "line", "color": "#9ACD32", "strokeWidth": 1, "strokeDash": [3, 2]},
          "encoding": {
            "x": {"field": "i", "type": "quantitative", "title": null, "axis": {"values": [0, 8, 16, 24, 32, 40, 48, 56, 64, 72, 80, 88, 96, 104, 112], "labelExpr": "['3 Sep 2015','3 Sep 15:00','3 Sep 23:00','4 Sep 07:00','4 Sep 15:00','4 Sep 23:00','7 Sep 07:00','7 Sep 15:00','7 Sep 23:00','8 Sep 07:00','8 Sep 15:00','8 Sep 23:00','9 Sep 07:00','9 Sep 15:00','9 Sep 23:00'][round(datum.value/8)]", "labelAlign": "left", "labelBaseline": "top", "labelPadding": 1, "tickSize": 4, "labelOverlap": false, "labelFlush": false, "title": null}},
            "y": {"field": "v", "type": "quantitative", "title": null, "axis": {"orient": "right", "values": [3, 62], "tickSize": 3, "labelPadding": 2, "labelFlush": 2, "title": null}}
          }
        },
        {
          "data": {"name": "adx"},
          "mark": {"type": "line", "color": "#FF0000", "strokeWidth": 1.3},
          "encoding": {
            "x": {"field": "i", "type": "quantitative", "title": null, "axis": {"values": [0, 8, 16, 24, 32, 40, 48, 56, 64, 72, 80, 88, 96, 104, 112], "labelExpr": "['3 Sep 2015','3 Sep 15:00','3 Sep 23:00','4 Sep 07:00','4 Sep 15:00','4 Sep 23:00','7 Sep 07:00','7 Sep 15:00','7 Sep 23:00','8 Sep 07:00','8 Sep 15:00','8 Sep 23:00','9 Sep 07:00','9 Sep 15:00','9 Sep 23:00'][round(datum.value/8)]", "labelAlign": "left", "labelBaseline": "top", "labelPadding": 1, "tickSize": 4, "labelOverlap": false, "labelFlush": false, "title": null}},
            "y": {"field": "v", "type": "quantitative", "title": null, "axis": {"orient": "right", "values": [3, 62], "tickSize": 3, "labelPadding": 2, "labelFlush": 2, "title": null}}
          }
        },
        {
          "data": {"values": [{"label": "ADX(14) 14.8757 +DI:9.9152 -DI:12.3035"}]},
          "mark": {"type": "text", "color": "#20206F", "align": "left", "baseline": "middle", "fontSize": 9.5, "font": "Liberation Sans"},
          "encoding": {
            "x": {"datum": 0.44, "type": "quantitative", "title": null, "axis": {"values": [0, 8, 16, 24, 32, 40, 48, 56, 64, 72, 80, 88, 96, 104, 112], "labelExpr": "['3 Sep 2015','3 Sep 15:00','3 Sep 23:00','4 Sep 07:00','4 Sep 15:00','4 Sep 23:00','7 Sep 07:00','7 Sep 15:00','7 Sep 23:00','8 Sep 07:00','8 Sep 15:00','8 Sep 23:00','9 Sep 07:00','9 Sep 15:00','9 Sep 23:00'][round(datum.value/8)]", "labelAlign": "left", "labelBaseline": "top", "labelPadding": 1, "tickSize": 4, "labelOverlap": false, "labelFlush": false, "title": null}},
            "y": {"datum": 56.96, "type": "quantitative", "title": null, "axis": {"orient": "right", "values": [3, 62], "tickSize": 3, "labelPadding": 2, "labelFlush": 2, "title": null}},
            "text": {"field": "label"}
          }
        }
      ]
    }
  ]
}
